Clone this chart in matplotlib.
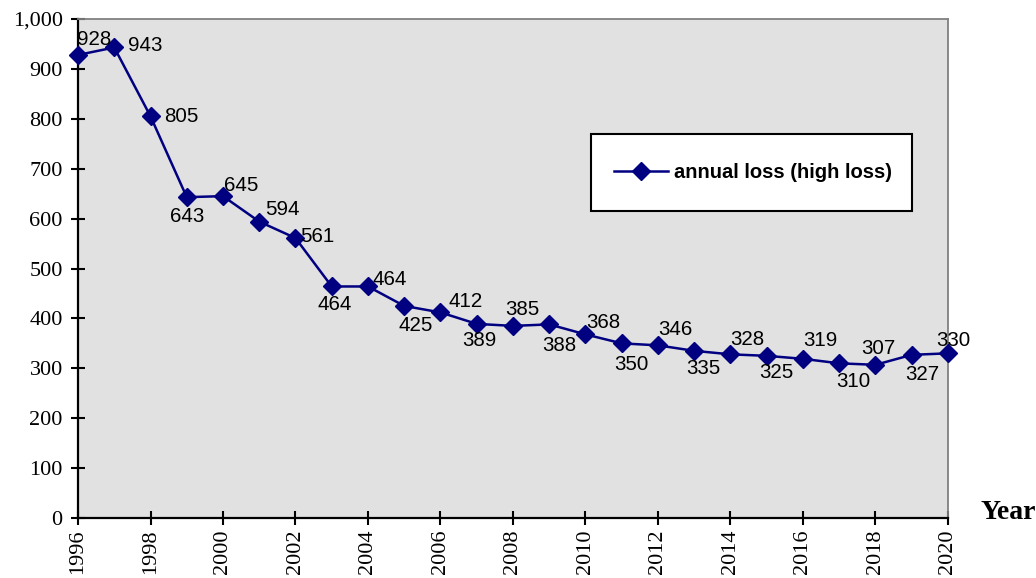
import matplotlib.pyplot as plt
from matplotlib.patches import Rectangle
from matplotlib.ticker import FuncFormatter

# annual loss series
years = list(range(1996, 2021))
loss = [928, 943, 805, 643, 645, 594, 561, 464, 464, 425, 412, 389, 385,
        388, 368, 350, 346, 335, 328, 325, 319, 310, 307, 327, 330]
series_name = "annual loss (high loss)"

# where each value label sits relative to its marker (pixels)
label_offsets = [(16, 15), (31, 2), (31, 0), (0, -19), (18, 11), (23, 12),
                 (22, 2), (3, -18), (22, 7), (11, -20), (25, 11), (3, -17),
                 (9, 16), (10, -21), (18, 12), (10, -21), (17, 16), (9, -18),
                 (17, 15), (10, -17), (17, 18), (14, -18), (3, 16), (11, -20),
                 (5, 13)]

NAVY = "#000080"
SERIF = "Liberation Serif"
SANS = "Liberation Sans"

fig = plt.figure(figsize=(10.36, 5.78), dpi=100)
ax = fig.add_axes([0.0753, 0.1038, 0.8397, 0.8633])
ax.set_facecolor("#e1e1e1")

ax.plot(years, loss, color=NAVY, lw=1.8, marker="D", ms=9.5,
        mfc=NAVY, mec=NAVY, label=series_name, zorder=3, clip_on=False)

for x, y, (dx, dy) in zip(years, loss, label_offsets):
    ax.annotate(f"{y}", (x, y), xytext=(dx, dy), textcoords="offset pixels",
                ha="center", va="center", fontsize=14.8, family=SANS, zorder=4)

ax.set_xlim(1996, 2020)
ax.set_ylim(0, 1000)
ax.set_xticks(range(1996, 2021, 2))
ax.set_yticks(range(0, 1001, 100))
ax.yaxis.set_major_formatter(FuncFormatter(lambda v, p: f"{int(v):,}"))
ax.tick_params(axis="both", direction="inout", length=10, width=1.5,
               labelsize=16, color="black")
ax.tick_params(axis="y", pad=6)
ax.tick_params(axis="x", labelrotation=90, pad=3)
for lab in ax.get_xticklabels() + ax.get_yticklabels():
    lab.set_family(SERIF)

for side in ("left", "bottom"):
    ax.spines[side].set_color("black")
    ax.spines[side].set_linewidth(1.6)
for side in ("top", "right"):
    ax.spines[side].set_color("#808080")
    ax.spines[side].set_linewidth(1.3)

# legend box
ax.add_patch(Rectangle((0.5897, 0.615), 0.3689, 0.1545, transform=ax.transAxes,
                       facecolor="white", edgecolor="black", lw=1.5, zorder=5))
leg = ax.legend(loc="center", bbox_to_anchor=(0.776, 0.692), frameon=False,
                handlelength=2.7, handletextpad=0.3,
                prop={"family": SANS, "weight": "bold", "size": 14.5})
leg.set_zorder(6)

fig.text(0.973, 0.114, "Year", ha="center", va="center", fontsize=20,
         fontweight="bold", family=SERIF)

fig.savefig("out.png", dpi=100)
